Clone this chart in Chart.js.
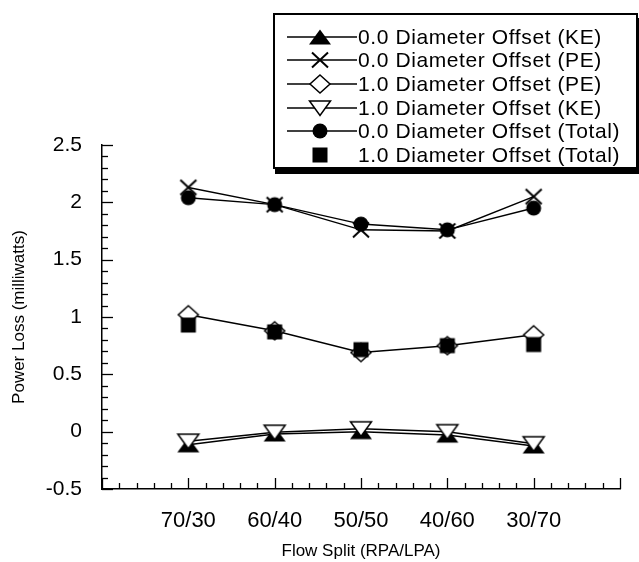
<!DOCTYPE html>
<html><head><meta charset="utf-8">
<script src="https://cdn.jsdelivr.net/npm/chart.js@4.4.0/dist/chart.umd.min.js"></script>
<style>
html,body{margin:0;padding:0;background:#fff;}
#wrap{position:relative;width:639px;height:562px;overflow:hidden;background:#fff;}
#c{position:absolute;left:0;top:0;}
#legend{position:absolute;left:273px;top:13px;width:365px;height:156px;box-sizing:border-box;border:2px solid #000;box-shadow:2px 5px 0 #000;background:#fff;padding:10px 0 0 12px;font-family:"Liberation Sans",Arial,Helvetica,sans-serif;font-size:21px;letter-spacing:0.6px;color:#000;}
.row{display:flex;align-items:center;height:23.6px;white-space:nowrap;}
.row canvas{display:block;flex:none;}
</style></head>
<body><div id="wrap"><canvas id="c" width="639" height="562"></canvas><div id="legend"></div></div>
<script>
// ---- data ----
const categories = ['70/30', '60/40', '50/50', '40/60', '30/70'];
const ke00  = [-0.115, -0.02, 0.0, -0.03, -0.125];   // 0.0 Diameter Offset (KE)
const pe00  = [2.13, 1.98, 1.76, 1.75, 2.05];        // 0.0 Diameter Offset (PE)
const pe10  = [1.02, 0.88, 0.69, 0.75, 0.845];       // 1.0 Diameter Offset (PE)
const ke10  = [-0.083, -0.005, 0.025, 0.0, -0.105];  // 1.0 Diameter Offset (KE)
const tot00 = [2.04, 1.98, 1.81, 1.76, 1.95];        // 0.0 Diameter Offset (Total)
const tot10 = [0.93, 0.87, 0.715, 0.75, 0.76];       // 1.0 Diameter Offset (Total)
const yTickLabels = ['-0.5', '0', '0.5', '1', '1.5', '2', '2.5'];
const xTitle = 'Flow Split (RPA/LPA)';
const yTitle = 'Power Loss (milliwatts)';

const FONT = '"Liberation Sans", Arial, Helvetica, sans-serif';

function drawMarker(g, kind, x, y){
  g.save(); g.strokeStyle = '#000'; g.fillStyle = '#000'; g.lineWidth = 1.5;
  switch(kind){
    case 'triUp': g.beginPath(); g.moveTo(x-11,y+7.5); g.lineTo(x+11,y+7.5); g.lineTo(x,y-7.5); g.closePath(); g.fill(); break;
    case 'triDown': g.beginPath(); g.moveTo(x-10.5,y-7); g.lineTo(x+10.5,y-7); g.lineTo(x,y+7.5); g.closePath(); g.fillStyle='#fff'; g.fill(); g.stroke(); break;
    case 'cross': g.lineWidth = 2; g.beginPath(); g.moveTo(x-8,y-7.5); g.lineTo(x+8,y+7.5); g.moveTo(x+8,y-7.5); g.lineTo(x-8,y+7.5); g.stroke(); break;
    case 'diamond': g.beginPath(); g.moveTo(x,y-9); g.lineTo(x+10,y); g.lineTo(x,y+9); g.lineTo(x-10,y); g.closePath(); g.fillStyle='#fff'; g.fill(); g.stroke(); break;
    case 'circle': g.beginPath(); g.arc(x,y,7.5,0,Math.PI*2); g.fill(); break;
    case 'square': g.fillRect(x-7.5,y-7.5,15,15); break;
  }
  g.restore();
}
function markerCanvas(kind){
  const c = document.createElement('canvas'); c.width = 26; c.height = 22;
  drawMarker(c.getContext('2d'), kind, 13, 11); return c;
}

const series = [
  {label:'0.0 Diameter Offset (KE)',    values: ke00,  marker:'triUp',   line:true},
  {label:'0.0 Diameter Offset (PE)',    values: pe00,  marker:'cross',   line:true},
  {label:'1.0 Diameter Offset (PE)',    values: pe10,  marker:'diamond', line:true},
  {label:'1.0 Diameter Offset (KE)',    values: ke10,  marker:'triDown', line:true},
  {label:'0.0 Diameter Offset (Total)', values: tot00, marker:'circle',  line:true},
  {label:'1.0 Diameter Offset (Total)', values: tot10, marker:'square',  line:false}
];

// HTML legend
const legendEl = document.getElementById('legend');
series.forEach(s => {
  const row = document.createElement('div'); row.className = 'row';
  const ic = document.createElement('canvas'); ic.width = 71; ic.height = 24;
  const g = ic.getContext('2d');
  if (s.line){ g.strokeStyle='#000'; g.lineWidth=1.5; g.beginPath(); g.moveTo(0,12); g.lineTo(70,12); g.stroke(); }
  drawMarker(g, s.marker, 33, 12);
  const sp = document.createElement('span'); sp.textContent = s.label;
  row.appendChild(ic); row.appendChild(sp); legendEl.appendChild(row);
});

const innerTicks = {
  id: 'innerTicks',
  afterDraw(chart){
    const {ctx, scales:{x, y}} = chart;
    ctx.save(); ctx.strokeStyle = '#000'; ctx.lineWidth = 1.3;
    const L = x.left, B = y.bottom;
    const yMin = y.min, yMax = y.max, yStep = 0.1;
    const nY = Math.round((yMax - yMin)/yStep);
    for (let k = 0; k <= nY; k++){
      const py = Math.round(y.getPixelForValue(yMin + k*yStep)) + 0.5;
      const len = (k % 5 === 0) ? 11 : 6;
      ctx.beginPath(); ctx.moveTo(L, py); ctx.lineTo(L + len, py); ctx.stroke();
    }
    const xStep = 0.2, nX = Math.round((x.max - x.min)/xStep);
    for (let k = 0; k <= nX; k++){
      const px = Math.round(x.getPixelForValue(x.min + k*xStep)) + 0.5;
      const len = (k % 5 === 0) ? 11 : 6;
      ctx.beginPath(); ctx.moveTo(px, B); ctx.lineTo(px, B - len); ctx.stroke();
    }
    ctx.restore();
  }
};

Chart.defaults.font.family = FONT;
Chart.defaults.color = '#000';

new Chart(document.getElementById('c'), {
  type: 'line',
  data: {
    datasets: series.map((s, i) => ({
      label: s.label,
      data: s.values.map((v, j) => ({x: j, y: v})),
      showLine: s.line,
      borderColor: '#000',
      backgroundColor: '#000',
      borderWidth: 1.5,
      pointStyle: markerCanvas(s.marker),
      pointRadius: 8,
      pointHoverRadius: 8,
      tension: 0,
      fill: false,
      order: series.length - i
    }))
  },
  options: {
    responsive: false,
    animation: false,
    devicePixelRatio: 1,
    events: [],
    layout: {padding: {top: 145, right: 3, left: 0, bottom: 0}},
    plugins: {legend: {display: false}, tooltip: {enabled: false}},
    scales: {
      x: {
        type: 'linear', min: -1, max: 5,
        afterFit(s){ s.height = 73; },
        grid: {display: false, drawTicks: false},
        border: {display: true, color: '#000', width: 1.5},
        ticks: {stepSize: 1, autoSkip: false, maxRotation: 0, padding: 19, color: '#000',
                font: {size: 22}, callback: (v) => (categories[v] !== undefined ? categories[v] : '')},
        title: {display: true, text: xTitle, color: '#000', font: {size: 17}, padding: {top: 0, bottom: 0}}
      },
      y: {
        min: -0.5, max: 2.5,
        afterFit(s){ s.width = 102; },
        grid: {display: false, drawTicks: false},
        border: {display: true, color: '#000', width: 1.5},
        ticks: {stepSize: 0.5, padding: 20, color: '#000', font: {size: 21},
                callback: (v, i) => yTickLabels[i]},
        title: {display: true, text: yTitle, color: '#000', font: {size: 17}, padding: {top: 9, bottom: 0}}
      }
    }
  },
  plugins: [innerTicks]
});
</script>
</body></html>
